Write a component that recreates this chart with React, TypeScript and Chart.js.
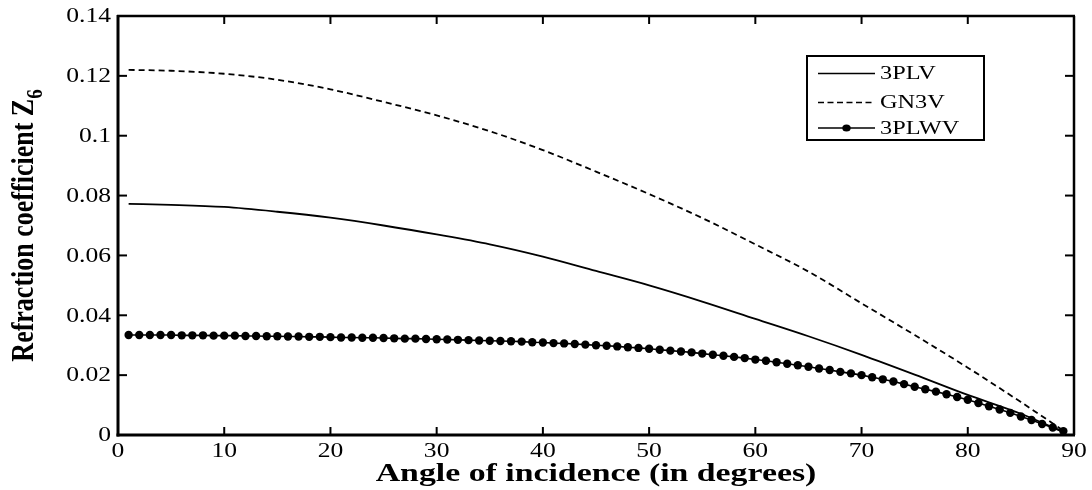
import React, { useEffect, useRef } from "react";
import { Chart, registerables } from "chart.js";

Chart.register(...registerables);

const xTickValues = [0, 10, 20, 30, 40, 50, 60, 70, 80, 90];
const xTickLabels = ["0", "10", "20", "30", "40", "50", "60", "70", "80", "90"];
const yTickValues = [0, 0.02, 0.04, 0.06, 0.08, 0.1, 0.12, 0.14];
const yTickLabels = ["0", "0.02", "0.04", "0.06", "0.08", "0.1", "0.12", "0.14"];

const seriesNames = ["3PLV", "GN3V", "3PLWV"];
const xTitle = "Angle of incidence (in degrees)";
const yTitleMain = "Refraction coefficient Z";
const yTitleSub = "6";

const lineAngles = [1, 5, 10, 15, 20, 25, 30, 35, 40, 45, 50, 55, 60, 65, 70, 75, 80, 85, 89];
const z3PLV = [0.0772, 0.0769, 0.0762, 0.0746, 0.0726, 0.07, 0.067, 0.0637, 0.0596, 0.0548, 0.05, 0.0446, 0.0388, 0.033, 0.0268, 0.0202, 0.0134, 0.0071, 0.001];
const zGN3V = [0.122, 0.1217, 0.1207, 0.1187, 0.1155, 0.1113, 0.1068, 0.1015, 0.0952, 0.088, 0.0805, 0.0725, 0.0637, 0.0546, 0.044, 0.0334, 0.0225, 0.011, 0.0015];

const dotAngles = [
  1, 2, 3, 4, 5, 6, 7, 8, 9, 10, 11, 12, 13, 14, 15, 16, 17, 18, 19, 20,
  21, 22, 23, 24, 25, 26, 27, 28, 29, 30, 31, 32, 33, 34, 35, 36, 37, 38, 39, 40,
  41, 42, 43, 44, 45, 46, 47, 48, 49, 50, 51, 52, 53, 54, 55, 56, 57, 58, 59, 60,
  61, 62, 63, 64, 65, 66, 67, 68, 69, 70, 71, 72, 73, 74, 75, 76, 77, 78, 79, 80,
  81, 82, 83, 84, 85, 86, 87, 88, 89,
];
const z3PLWV = [
  0.0334, 0.0334, 0.0334, 0.0334, 0.0334, 0.0333, 0.0333, 0.0333, 0.0332, 0.0332,
  0.0332, 0.0331, 0.0331, 0.033, 0.033, 0.0329, 0.0329, 0.0328, 0.0328, 0.0327,
  0.0326, 0.0326, 0.0325, 0.0325, 0.0324, 0.0323, 0.0322, 0.0322, 0.0321, 0.032,
  0.0319, 0.0318, 0.0317, 0.0316, 0.0315, 0.0314, 0.0313, 0.0312, 0.031, 0.0309,
  0.0307, 0.0306, 0.0304, 0.0302, 0.03, 0.0298, 0.0296, 0.0293, 0.0291, 0.0288,
  0.0285, 0.0282, 0.0279, 0.0276, 0.0272, 0.0268, 0.0265, 0.0261, 0.0257, 0.0252,
  0.0248, 0.0243, 0.0238, 0.0233, 0.0228, 0.0222, 0.0217, 0.0211, 0.0206, 0.02,
  0.0193, 0.0186, 0.0179, 0.017, 0.0161, 0.0153, 0.0145, 0.0136, 0.0127, 0.0118,
  0.0107, 0.0096, 0.0085, 0.0074, 0.0062, 0.005, 0.0037, 0.0025, 0.0013,
];

const SERIF = '"Liberation Serif", "Times New Roman", serif';

function stretchedText(ctx: CanvasRenderingContext2D, text: string, x: number, y: number, font: string, sx: number, align: CanvasTextAlign, baseline: CanvasTextBaseline) {
  ctx.save();
  ctx.translate(x, y);
  ctx.scale(sx, 1);
  ctx.font = font;
  ctx.textAlign = align;
  ctx.textBaseline = baseline;
  ctx.fillStyle = "#000";
  ctx.fillText(text, 0, 0);
  ctx.restore();
}

const framePlugin = {
  id: "framePlugin",
  afterDatasetsDraw(chart: any) {
    const { ctx, chartArea: a, scales } = chart;
    const xs = scales.x;
    const ys = scales.y;
    ctx.save();
    ctx.strokeStyle = "#000";
    ctx.lineCap = "butt";
    const seg = (x1: number, y1: number, x2: number, y2: number, w: number) => {
      ctx.lineWidth = w;
      ctx.beginPath();
      ctx.moveTo(x1, y1);
      ctx.lineTo(x2, y2);
      ctx.stroke();
    };
    // ticks
    xTickValues.forEach((v) => {
      const px = xs.getPixelForValue(v);
      seg(px, a.bottom, px, a.bottom - 8, 2);
      seg(px, a.top, px, a.top + 8, 2);
    });
    yTickValues.forEach((v) => {
      const py = ys.getPixelForValue(v);
      seg(a.left, py, a.left + 9, py, 2);
      seg(a.right, py, a.right - 9, py, 2);
    });
    // frame
    seg(a.left - 1, a.top, a.right + 1, a.top, 2.5);
    seg(a.right, a.top, a.right, a.bottom, 2.5);
    seg(a.left, a.top - 1, a.left, a.bottom + 1.5, 3);
    seg(a.left - 1.5, a.bottom, a.right + 1, a.bottom, 3);

    // tick labels
    const tickFont = `20px ${SERIF}`;
    xTickValues.forEach((v, i) => {
      const px = xs.getPixelForValue(v);
      stretchedText(ctx, xTickLabels[i], px, 452, tickFont, 1.28, "center", "middle");
    });
    yTickValues.forEach((v, i) => {
      const py = ys.getPixelForValue(v);
      stretchedText(ctx, yTickLabels[i], 111, py + 1, tickFont, 1.28, "right", "middle");
    });

    // x title
    stretchedText(ctx, xTitle, (a.left + a.right) / 2, 481, `bold 26px ${SERIF}`, 1.3, "center", "alphabetic");

    // y title (rotated) with subscript
    ctx.save();
    const cy = (a.top + a.bottom) / 2;
    ctx.translate(33, cy);
    ctx.rotate(-Math.PI / 2);
    ctx.scale(1, 1.25);
    ctx.fillStyle = "#000";
    ctx.textBaseline = "alphabetic";
    ctx.textAlign = "left";
    ctx.font = `bold 26px ${SERIF}`;
    const wMain = ctx.measureText(yTitleMain).width;
    ctx.font = `bold 19px ${SERIF}`;
    const wSub = ctx.measureText(yTitleSub).width;
    const start = -(wMain + wSub) / 2;
    ctx.font = `bold 26px ${SERIF}`;
    ctx.fillText(yTitleMain, start, 0);
    ctx.font = `bold 19px ${SERIF}`;
    ctx.fillText(yTitleSub, start + wMain, 7);
    ctx.restore();

    // legend
    const lx = 807, ly = 56, lw = 177, lh = 84;
    ctx.fillStyle = "#fff";
    ctx.fillRect(lx, ly, lw, lh);
    ctx.lineWidth = 2;
    ctx.strokeRect(lx, ly, lw, lh);
    const rows = [73.5, 102.5, 128];
    const sx1 = 818, sx2 = 875;
    ctx.lineWidth = 1.7;
    ctx.setLineDash([]);
    ctx.beginPath(); ctx.moveTo(sx1, rows[0]); ctx.lineTo(sx2, rows[0]); ctx.stroke();
    ctx.setLineDash([6, 3.5]);
    ctx.beginPath(); ctx.moveTo(sx1, rows[1]); ctx.lineTo(sx2, rows[1]); ctx.stroke();
    ctx.setLineDash([]);
    ctx.beginPath(); ctx.moveTo(sx1, rows[2]); ctx.lineTo(sx2, rows[2]); ctx.stroke();
    ctx.fillStyle = "#000";
    ctx.beginPath(); ctx.ellipse((sx1 + sx2) / 2, rows[2], 4.2, 3.5, 0, 0, Math.PI * 2); ctx.fill();
    seriesNames.forEach((n, i) => {
      stretchedText(ctx, n, 880, rows[i] + 1, `18px ${SERIF}`, 1.35, "left", "middle");
    });
    ctx.restore();
  },
};

export default function App() {
  const canvasRef = useRef<HTMLCanvasElement | null>(null);

  useEffect(() => {
    if (!canvasRef.current) return;
    const chart = new Chart(canvasRef.current, {
      type: "line",
      data: {
        datasets: [
          {
            label: seriesNames[0],
            data: lineAngles.map((a, i) => ({ x: a, y: z3PLV[i] })),
            borderColor: "#000",
            borderWidth: 1.8,
            pointRadius: 0,
            cubicInterpolationMode: "monotone",
            fill: false,
          },
          {
            label: seriesNames[1],
            data: lineAngles.map((a, i) => ({ x: a, y: zGN3V[i] })),
            borderColor: "#000",
            borderWidth: 1.8,
            borderDash: [6, 4],
            pointRadius: 0,
            cubicInterpolationMode: "monotone",
            fill: false,
          },
          {
            label: seriesNames[2],
            data: dotAngles.map((a, i) => ({ x: a, y: z3PLWV[i] })),
            borderColor: "#000",
            backgroundColor: "#000",
            borderWidth: 1.6,
            pointRadius: 4.2,
            pointBorderWidth: 0,
            pointBackgroundColor: "#000",
            tension: 0,
            fill: false,
          },
        ],
      },
      options: {
        animation: false,
        responsive: true,
        maintainAspectRatio: false,
        layout: { padding: { left: 0, right: 18, top: 16, bottom: 0 } },
        plugins: {
          legend: { display: false },
          tooltip: { enabled: false },
          title: { display: false },
        },
        scales: {
          x: {
            type: "linear",
            min: 0,
            max: 90,
            ticks: { display: false },
            grid: { display: false },
            border: { display: false },
            afterFit: (s: any) => { s.height = 55; },
          },
          y: {
            type: "linear",
            min: 0,
            max: 0.14,
            ticks: { display: false },
            grid: { display: false },
            border: { display: false },
            afterFit: (s: any) => { s.width = 118; },
          },
        },
      } as any,
      plugins: [framePlugin],
    });
    return () => chart.destroy();
  }, []);

  return (
    <div style={{ position: "fixed", left: 0, top: 0, width: 1092, height: 490, background: "#fff" }}>
      <canvas ref={canvasRef} />
    </div>
  );
}
